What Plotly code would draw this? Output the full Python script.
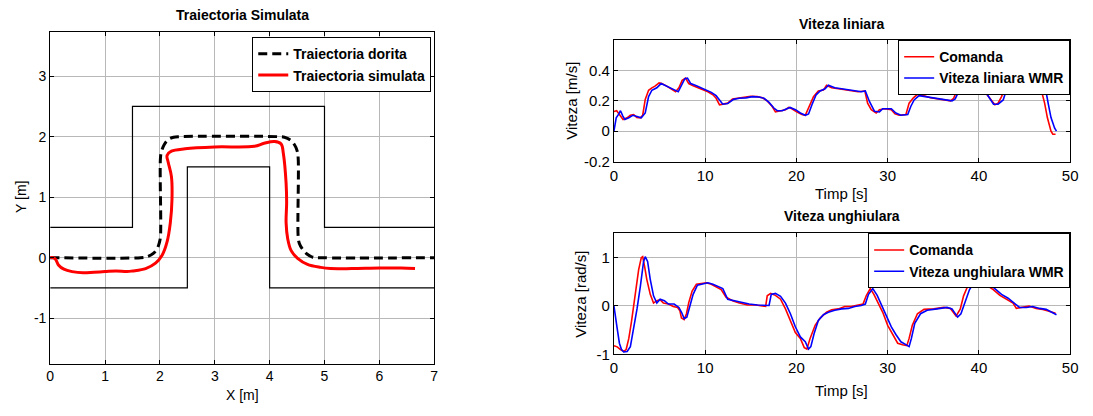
import plotly.graph_objects as go

# ---------------- Data ----------------
# Corridor walls (left plot)
wall_out_x = [0, 1.5, 1.5, 5, 5, 7]
wall_out_y = [0.5, 0.5, 2.5, 2.5, 0.5, 0.5]
wall_in_x = [0, 2.5, 2.5, 4, 4, 7]
wall_in_y = [-0.5, -0.5, 1.5, 1.5, -0.5, -0.5]

# Desired trajectory
des_x = [0, 1.65, 1.78, 1.88, 1.95, 1.99, 2.01, 2.01, 2.03, 2.08, 2.15, 2.25, 2.35,
         4.15, 4.27, 4.37, 4.45, 4.50, 4.52, 4.52, 4.54, 4.60, 4.68, 4.78, 4.90, 7.0]
des_y = [0, 0, 0.02, 0.07, 0.15, 0.25, 0.35, 1.65, 1.76, 1.87, 1.95, 1.99, 2.0,
         2.0, 1.99, 1.95, 1.87, 1.77, 1.65, 0.35, 0.24, 0.14, 0.06, 0.01, 0, 0]

# Simulated trajectory
sim_x = [0, 0.05, 0.1, 0.15, 0.25, 0.4, 0.6, 0.8, 1.0, 1.2, 1.4, 1.5, 1.74, 1.92, 2.04,
         2.13, 2.19, 2.22, 2.21, 2.15, 2.13, 2.21, 2.46, 3.0, 3.72, 3.9, 4.09, 4.21,
         4.25, 4.30, 4.31, 4.30, 4.33, 4.39, 4.51, 4.69, 4.93, 5.11, 5.5, 6.0, 6.4, 6.65]
sim_y = [0, 0.0, -0.03, -0.12, -0.19, -0.23, -0.25, -0.24, -0.23, -0.22, -0.23, -0.22,
         -0.18, -0.09, 0.04, 0.26, 0.58, 0.96, 1.34, 1.58, 1.69, 1.76, 1.80, 1.83, 1.84,
         1.89, 1.92, 1.88, 1.72, 1.23, 0.91, 0.58, 0.31, 0.12, -0.01, -0.11, -0.16,
         -0.18, -0.18, -0.17, -0.17, -0.18]

# Linear velocity - command
lin_cmd_t = [0, 0.3, 0.72, 1.0, 1.45, 1.8, 2.17, 2.5, 2.9, 3.15, 3.43, 3.8, 4.16, 4.5, 4.95,
             5.24, 5.78, 6.33, 6.76, 7.12, 7.48, 7.85, 8.2, 8.68, 9.2, 9.76, 10.3, 10.85,
             11.2, 11.57, 11.93, 12.47, 13.0, 13.56, 14.28, 15.0, 15.7, 16.27, 16.8, 17.35,
             17.7, 18.26, 18.8, 19.16, 19.5, 20.07, 20.6, 20.97, 21.33, 21.87, 22.4, 22.96,
             23.3, 23.86, 24.6, 25.3, 26.0, 26.75, 27.5, 27.8, 28.2, 28.74, 29.1, 29.64,
             30.4, 30.8, 31.27, 32.0, 32.35, 32.82, 33.26, 33.98, 34.7, 35.4, 36.15, 36.88,
             37.23, 37.6, 37.96, 38.5, 39.2, 39.8, 40.3, 40.9, 41.5, 41.75, 42.1, 42.48,
             42.8, 43.3, 44.2, 45.2, 46.2, 46.8, 47.2, 47.5, 47.9, 48.1, 48.4]
lin_cmd_v = [0.13, 0.135, 0.10, 0.077, 0.088, 0.105, 0.11, 0.09, 0.088, 0.105, 0.21, 0.27,
             0.286, 0.297, 0.318, 0.314, 0.297, 0.277, 0.26, 0.286, 0.335, 0.35, 0.314, 0.30,
             0.286, 0.275, 0.26, 0.24, 0.217, 0.174, 0.178, 0.185, 0.213, 0.217, 0.22, 0.23,
             0.228, 0.22, 0.20, 0.163, 0.127, 0.135, 0.142, 0.157, 0.148, 0.127, 0.11, 0.105,
             0.153, 0.228, 0.265, 0.271, 0.303, 0.286, 0.28, 0.275, 0.27, 0.26, 0.265, 0.185,
             0.142, 0.12, 0.142, 0.148, 0.142, 0.114, 0.105, 0.11, 0.185, 0.22, 0.243, 0.234,
             0.22, 0.213, 0.204, 0.20, 0.217, 0.27, 0.30, 0.33, 0.34, 0.33, 0.286, 0.24,
             0.196, 0.174, 0.185, 0.228, 0.28, 0.33, 0.36, 0.37, 0.35, 0.28, 0.185, 0.09,
             0.0, -0.02, -0.02]

# Linear velocity - WMR
lin_wmr_t = [0, 0.25, 0.54, 0.72, 0.98, 1.2, 1.63, 2.06, 2.53, 3.0, 3.43, 3.8, 4.16, 4.7,
             5.17, 5.6, 6.15, 6.69, 7.05, 7.41, 7.77, 8.06, 8.42, 9.04, 9.58, 10.12, 10.67,
             11.2, 11.57, 11.93, 12.47, 13.12, 13.74, 14.46, 15.18, 15.9, 16.45, 17.0, 17.53,
             17.9, 18.44, 18.98, 19.3, 19.9, 20.43, 20.97, 21.33, 21.7, 22.16, 22.6, 23.14,
             23.5, 24.2, 24.95, 25.7, 26.4, 27.1, 27.55, 28.0, 28.56, 29.1, 29.46, 30.4, 30.9,
             31.45, 32.2, 32.53, 32.9, 33.44, 34.16, 34.9, 35.6, 36.33, 37.05, 37.4, 37.78,
             38.14, 38.7, 39.4, 40.0, 40.5, 41.05, 41.6, 42.1, 42.66, 43.0, 43.6, 44.5, 45.5,
             46.6, 47.3, 47.6, 47.9, 48.3, 48.5]
lin_wmr_v = [0.0, 0.088, 0.114, 0.135, 0.10, 0.077, 0.088, 0.105, 0.097, 0.088, 0.12, 0.228,
             0.27, 0.286, 0.314, 0.303, 0.286, 0.271, 0.26, 0.303, 0.346, 0.35, 0.314, 0.30,
             0.286, 0.271, 0.256, 0.234, 0.206, 0.178, 0.183, 0.21, 0.217, 0.22, 0.228, 0.226,
             0.217, 0.19, 0.153, 0.135, 0.135, 0.146, 0.157, 0.142, 0.12, 0.105, 0.114, 0.174,
             0.24, 0.265, 0.28, 0.303, 0.286, 0.28, 0.271, 0.267, 0.26, 0.265, 0.196, 0.131,
             0.127, 0.148, 0.148, 0.12, 0.105, 0.11, 0.163, 0.206, 0.234, 0.228, 0.22, 0.213,
             0.206, 0.20, 0.213, 0.26, 0.292, 0.32, 0.34, 0.33, 0.28, 0.228, 0.178, 0.178,
             0.206, 0.27, 0.33, 0.36, 0.37, 0.35, 0.28, 0.18, 0.09, 0.02, 0.0]

# Angular velocity - command
ang_cmd_t = [0, 0.36, 0.72, 1.08, 1.34, 1.63, 1.92, 2.17, 2.42, 2.71, 3.0, 3.15, 3.36, 3.6,
             3.98, 4.34, 4.7, 5.06, 5.42, 5.97, 6.5, 6.98, 7.23, 7.4, 7.7, 7.95, 8.2, 8.57,
             9.04, 9.58, 10.12, 10.67, 11.2, 11.75, 12.3, 13.0, 13.74, 14.64, 15.55, 16.63,
             16.8, 17.17, 17.7, 18.26, 18.8, 19.34, 19.88, 20.43, 20.86, 21.15, 21.5, 22.05,
             22.6, 23.3, 23.86, 24.6, 25.3, 26.0, 26.75, 27.3, 27.65, 28.09, 28.49, 28.92,
             29.46, 30.0, 30.6, 31.1, 31.63, 32.1, 32.35, 32.7, 33.26, 33.98, 35.06, 36.15,
             36.88, 37.23, 37.5, 37.96, 38.32, 38.86, 39.4, 40.1, 40.66, 41.0, 41.57, 42.3,
             43.0, 43.74, 44.1, 44.8, 45.5, 46.26, 47.0, 47.5, 48.4]
ang_cmd_w = [-0.82, -0.845, -0.90, -0.94, -0.90, -0.67, -0.33, 0.04, 0.38, 0.75, 1.0, 1.02,
             0.82, 0.55, 0.24, 0.06, 0.11, 0.13, 0.06, 0.04, -0.01, -0.03, -0.10, -0.25,
             -0.28, -0.16, 0.07, 0.31, 0.45, 0.47, 0.48, 0.45, 0.40, 0.34, 0.18, 0.11, 0.06,
             0.02, 0.02, -0.01, 0.21, 0.26, 0.22, 0.14, -0.06, -0.30, -0.55, -0.67, -0.86,
             -0.89, -0.67, -0.40, -0.25, -0.13, -0.08, -0.06, -0.01, -0.01, 0.02, 0.04, 0.21,
             0.36, 0.24, 0.09, -0.13, -0.40, -0.60, -0.77, -0.80, -0.82, -0.67, -0.40, -0.16,
             -0.07, -0.06, -0.03, -0.05, -0.14, -0.21, -0.06, 0.21, 0.45, 0.53, 0.51, 0.51,
             0.41, 0.34, 0.22, 0.14, 0.06, -0.05, -0.03, 0.0, -0.05, -0.07, -0.10, -0.15]

# Angular velocity - WMR
ang_wmr_t = [0, 0.18, 0.36, 0.6, 0.83, 1.08, 1.45, 1.8, 2.17, 2.53, 2.9, 3.25, 3.43, 3.69,
             3.98, 4.34, 4.7, 5.06, 5.53, 5.97, 6.6, 7.12, 7.41, 7.7, 7.99, 8.32, 8.68, 9.15,
             9.76, 10.3, 10.85, 11.39, 11.93, 12.47, 13.2, 13.92, 14.82, 15.73, 17.0, 17.24,
             17.7, 18.26, 18.8, 19.34, 19.88, 20.43, 20.97, 21.33, 21.58, 21.94, 22.4, 22.96,
             23.5, 24.2, 24.95, 25.7, 26.4, 27.1, 27.55, 27.9, 28.37, 28.85, 29.28, 29.82,
             30.4, 30.9, 31.45, 32.0, 32.35, 32.6, 32.97, 33.6, 34.33, 35.4, 36.5, 37.05,
             37.4, 37.67, 38.03, 38.5, 38.97, 39.47, 40.1, 40.8, 41.2, 41.75, 42.48, 43.2,
             43.9, 44.45, 45.2, 45.9, 46.64, 47.37, 48.5]
ang_wmr_w = [0.0, -0.20, -0.47, -0.77, -0.90, -0.95, -0.94, -0.84, -0.47, -0.06, 0.41, 0.92,
             1.02, 0.92, 0.55, 0.21, 0.06, 0.14, 0.11, 0.04, 0.04, -0.03, -0.13, -0.26,
             -0.23, 0.01, 0.24, 0.43, 0.45, 0.48, 0.45, 0.41, 0.36, 0.14, 0.11, 0.07, 0.04,
             0.02, 0.01, 0.24, 0.26, 0.20, 0.06, -0.16, -0.43, -0.64, -0.74, -0.89, -0.84,
             -0.57, -0.30, -0.18, -0.13, -0.09, -0.06, -0.05, -0.01, 0.01, 0.04, 0.24, 0.36,
             0.22, 0.04, -0.16, -0.43, -0.59, -0.74, -0.80, -0.84, -0.67, -0.36, -0.16,
             -0.09, -0.06, -0.03, -0.06, -0.16, -0.23, -0.16, 0.11, 0.34, 0.49, 0.51, 0.51,
             0.45, 0.36, 0.24, 0.16, 0.06, -0.03, -0.03, -0.01, -0.05, -0.07, -0.18]

# Tick labels
traj_x_ticks = [0, 1, 2, 3, 4, 5, 6, 7]
traj_y_ticks = [-1, 0, 1, 2, 3]
traj_y_labels = ["-1", "0", "1", "2", "3"]
time_ticks = [0, 10, 20, 30, 40, 50]
lin_ticks = [-0.2, 0, 0.2, 0.4]
lin_labels = ["-0.2", "0", "0.2", "0.4"]
ang_ticks = [-1, 0, 1]
ang_labels = ["-1", "0", "1"]

# ---------------- Figure ----------------
FONT = "Liberation Sans, Arial, sans-serif"
W, H = 1093, 416

fig = go.Figure()

# Left plot
fig.add_trace(go.Scatter(x=wall_out_x, y=wall_out_y, mode="lines",
                         line=dict(color="black", width=1.2), showlegend=False,
                         xaxis="x", yaxis="y"))
fig.add_trace(go.Scatter(x=wall_in_x, y=wall_in_y, mode="lines",
                         line=dict(color="black", width=1.2), showlegend=False,
                         xaxis="x", yaxis="y"))
fig.add_trace(go.Scatter(x=des_x, y=des_y, mode="lines", name="Traiectoria dorita",
                         line=dict(color="black", width=3, dash="9px,5px"),
                         line_shape="spline", xaxis="x", yaxis="y", legend="legend"))
fig.add_trace(go.Scatter(x=sim_x, y=sim_y, mode="lines", name="Traiectoria simulata",
                         line=dict(color="#ff0000", width=3), line_shape="spline",
                         xaxis="x", yaxis="y", legend="legend"))

# Top right
fig.add_trace(go.Scatter(x=lin_cmd_t, y=lin_cmd_v, mode="lines", name="Comanda",
                         line=dict(color="#ff0000", width=1.6),
                         xaxis="x2", yaxis="y2", legend="legend2"))
fig.add_trace(go.Scatter(x=lin_wmr_t, y=lin_wmr_v, mode="lines", name="Viteza liniara WMR",
                         line=dict(color="#0000ff", width=1.6),
                         xaxis="x2", yaxis="y2", legend="legend2"))

# Bottom right
fig.add_trace(go.Scatter(x=ang_cmd_t, y=ang_cmd_w, mode="lines", name="Comanda",
                         line=dict(color="#ff0000", width=1.6),
                         xaxis="x3", yaxis="y3", legend="legend3"))
fig.add_trace(go.Scatter(x=ang_wmr_t, y=ang_wmr_w, mode="lines", name="Viteza unghiulara WMR",
                         line=dict(color="#0000ff", width=1.6),
                         xaxis="x3", yaxis="y3", legend="legend3"))


def px_x(p):
    return p / W


def px_y(p):
    return 1 - p / H


def axis_style(size):
    return dict(showline=True, linecolor="black", linewidth=1, mirror="ticks",
                ticks="inside", ticklen=4, tickcolor="black",
                showgrid=True, gridcolor="#b8b8b8", gridwidth=1, zeroline=False,
                tickfont=dict(family=FONT, size=size, color="black"))


legend_style = dict(xanchor="right", yanchor="top", bgcolor="white",
                    bordercolor="black", borderwidth=1,
                    font=dict(family=FONT, size=14, color="black", weight="bold"),
                    tracegroupgap=0, itemwidth=30)

fig.update_layout(
    width=W, height=H, margin=dict(l=0, r=0, t=0, b=0),
    paper_bgcolor="white", plot_bgcolor="white",
    font=dict(family=FONT, color="black"),
    xaxis=dict(domain=[px_x(46.7), px_x(435)], range=[0, 7], tickvals=traj_x_ticks,
               anchor="y", **axis_style(14)),
    yaxis=dict(domain=[px_y(370.7), px_y(32.3)], range=[-1.75, 3.735],
               tickvals=traj_y_ticks, ticktext=traj_y_labels, anchor="x", **axis_style(14)),
    xaxis2=dict(domain=[px_x(616.7), px_x(1078)], range=[0, 50],
                tickvals=time_ticks, anchor="y2", **axis_style(15)),
    yaxis2=dict(domain=[px_y(164.7), px_y(41)], range=[-0.2, 0.6],
                tickvals=lin_ticks, ticktext=lin_labels, anchor="x2", **axis_style(15)),
    xaxis3=dict(domain=[px_x(616.7), px_x(1078)], range=[0, 50],
                tickvals=time_ticks, anchor="y3", **axis_style(15)),
    yaxis3=dict(domain=[px_y(361.3), px_y(238)], range=[-1, 1.5],
                tickvals=ang_ticks, ticktext=ang_labels, anchor="x3", **axis_style(15)),
    legend=dict(x=px_x(432), y=px_y(38), **legend_style),
    legend2=dict(x=px_x(1078), y=px_y(41), **legend_style),
    legend3=dict(x=px_x(1078), y=px_y(238), **legend_style),
)

annots = [
    dict(text="<b>Traiectoria Simulata</b>", x=px_x(241), y=px_y(15), size=14, angle=0),
    dict(text="X [m]", x=px_x(241), y=px_y(403), size=14, angle=0),
    dict(text="Y [m]", x=px_x(17), y=px_y(201), size=14, angle=-90),
    dict(text="<b>Viteza liniara</b>", x=px_x(847), y=px_y(24), size=14, angle=0),
    dict(text="Timp [s]", x=px_x(847), y=px_y(197), size=15, angle=0),
    dict(text="Viteza [m/s]", x=px_x(573), y=px_y(103), size=15, angle=-90),
    dict(text="<b>Viteza unghiulara</b>", x=px_x(847), y=px_y(220), size=14, angle=0),
    dict(text="Timp [s]", x=px_x(847), y=px_y(398), size=15, angle=0),
    dict(text="Viteza [rad/s]", x=px_x(583), y=px_y(300), size=15, angle=-90),
]
for a in annots:
    fig.add_annotation(text=a["text"], x=a["x"], y=a["y"], xref="paper", yref="paper",
                       xanchor="center", yanchor="middle", showarrow=False,
                       textangle=a["angle"],
                       font=dict(family=FONT, size=a["size"], color="black"))

fig.write_html("out.html")
